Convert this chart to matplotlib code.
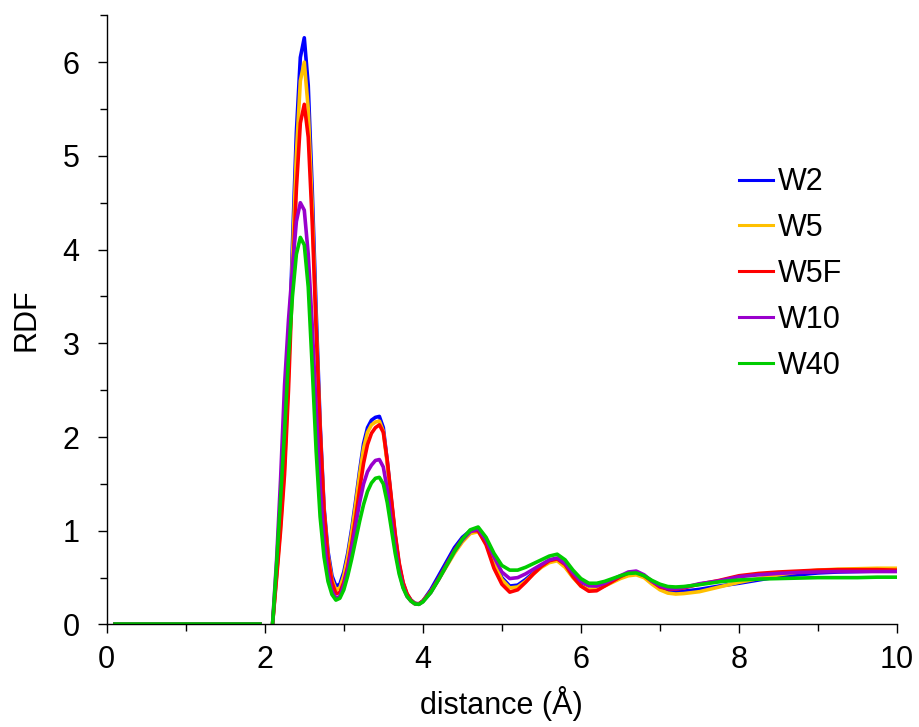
import numpy as np
import matplotlib
matplotlib.use("Agg")
import matplotlib.pyplot as plt

plt.rcParams['font.family'] = ['Liberation Sans', 'DejaVu Sans']

# flat part before the first shell
r_low = [0.1, 0.5, 1.0, 1.5, 1.94]
g_low = [0.0, 0.0, 0.0, 0.0, 0.0]

# distance grid (A): fine around the first two shells, coarser further out
r_a = np.round(np.arange(2.10, 4.001, 0.05), 2)
r_b = np.round(np.arange(4.1, 7.501, 0.1), 2)
r_c = np.round(np.arange(7.75, 10.001, 0.25), 2)
r = np.concatenate([r_a, r_b, r_c])

w2 = [0.02, 0.55, 1.10, 1.75, 2.75, 4.05, 5.25, 6.05, 6.26, 5.75, 4.65, 3.35, 2.15, 1.25, 0.78, 0.52, 0.41, 0.43, 0.56, 0.76,
      1.02, 1.32, 1.64, 1.93, 2.10, 2.18, 2.21, 2.22, 2.10, 1.74, 1.34, 0.95, 0.64, 0.44, 0.32, 0.26, 0.225, 0.22, 0.25,
      0.37, 0.52, 0.67, 0.82, 0.93, 1.00, 1.01, 0.87, 0.67, 0.50, 0.41, 0.42, 0.48, 0.55, 0.62, 0.67, 0.69, 0.62, 0.51, 0.42,
      0.375, 0.38, 0.42, 0.46, 0.50, 0.54, 0.55, 0.51, 0.45, 0.39, 0.36, 0.35, 0.355, 0.365, 0.375,
      0.41, 0.44, 0.475, 0.51, 0.53, 0.55, 0.56, 0.565, 0.57, 0.57]
w5 = [0.02, 0.53, 1.05, 1.68, 2.65, 3.90, 5.02, 5.80, 6.00, 5.50, 4.45, 3.20, 2.05, 1.20, 0.74, 0.48, 0.37, 0.39, 0.52, 0.72,
      0.98, 1.28, 1.60, 1.88, 2.05, 2.13, 2.16, 2.17, 2.06, 1.71, 1.32, 0.94, 0.63, 0.43, 0.31, 0.25, 0.22, 0.22, 0.25,
      0.35, 0.48, 0.62, 0.76, 0.88, 0.97, 0.99, 0.87, 0.66, 0.48, 0.39, 0.40, 0.46, 0.54, 0.61, 0.66, 0.68, 0.61, 0.50, 0.41,
      0.375, 0.38, 0.41, 0.45, 0.49, 0.52, 0.53, 0.50, 0.43, 0.37, 0.335, 0.325, 0.33, 0.34, 0.35,
      0.40, 0.45, 0.49, 0.53, 0.56, 0.58, 0.59, 0.595, 0.60, 0.60]
w5f = [0.02, 0.50, 1.00, 1.60, 2.50, 3.65, 4.65, 5.35, 5.55, 5.20, 4.30, 3.15, 2.10, 1.22, 0.72, 0.45, 0.33, 0.34, 0.45, 0.62,
       0.86, 1.14, 1.44, 1.72, 1.92, 2.04, 2.10, 2.13, 2.05, 1.75, 1.36, 0.97, 0.66, 0.45, 0.33, 0.26, 0.225, 0.22, 0.25,
       0.35, 0.49, 0.64, 0.79, 0.91, 1.00, 1.00, 0.85, 0.60, 0.43, 0.345, 0.37, 0.45, 0.54, 0.62, 0.68, 0.70, 0.64, 0.51, 0.41,
       0.355, 0.36, 0.41, 0.46, 0.51, 0.55, 0.56, 0.52, 0.46, 0.40, 0.38, 0.375, 0.39, 0.41, 0.43,
       0.47, 0.52, 0.545, 0.56, 0.57, 0.58, 0.585, 0.585, 0.585, 0.58]
w10 = [0.03, 0.70, 1.55, 2.55, 3.25, 3.80, 4.30, 4.50, 4.42, 3.95, 3.20, 2.30, 1.48, 0.90, 0.55, 0.36, 0.28, 0.30, 0.42, 0.60,
       0.82, 1.06, 1.30, 1.50, 1.63, 1.70, 1.75, 1.76, 1.68, 1.44, 1.12, 0.82, 0.57, 0.40, 0.30, 0.25, 0.22, 0.215, 0.245,
       0.34, 0.48, 0.63, 0.78, 0.90, 0.99, 1.02, 0.90, 0.72, 0.56, 0.49, 0.50, 0.54, 0.59, 0.64, 0.69, 0.71, 0.65, 0.55, 0.46,
       0.415, 0.41, 0.44, 0.48, 0.52, 0.56, 0.57, 0.53, 0.46, 0.41, 0.385, 0.38, 0.395, 0.415, 0.435,
       0.465, 0.51, 0.53, 0.545, 0.555, 0.56, 0.565, 0.565, 0.565, 0.565]
w40 = [0.02, 0.65, 1.35, 2.05, 2.85, 3.50, 3.95, 4.13, 4.05, 3.60, 2.75, 1.85, 1.15, 0.72, 0.46, 0.32, 0.26, 0.28, 0.37, 0.52,
       0.70, 0.90, 1.10, 1.28, 1.42, 1.51, 1.56, 1.57, 1.50, 1.30, 1.03, 0.76, 0.54, 0.39, 0.30, 0.25, 0.22, 0.215, 0.24,
       0.34, 0.48, 0.63, 0.78, 0.91, 1.01, 1.04, 0.93, 0.76, 0.63, 0.58, 0.58, 0.61, 0.65, 0.69, 0.73, 0.75, 0.69, 0.58, 0.49,
       0.44, 0.44, 0.46, 0.49, 0.52, 0.545, 0.55, 0.52, 0.47, 0.43, 0.405, 0.40, 0.405, 0.415, 0.425,
       0.455, 0.475, 0.485, 0.49, 0.495, 0.50, 0.50, 0.50, 0.505, 0.505]

labels = ["W2", "W5", "W5F", "W10", "W40"]
colors = ["#0000FF", "#FFC000", "#FF0000", "#9900CC", "#00CC00"]
series = [w2, w5, w5f, w10, w40]

fig = plt.figure(figsize=(9.2, 7.27), dpi=100)
ax = fig.add_axes([0.116, 0.141, 0.859, 0.838])

for y, c, lab in zip(series, colors, labels):
    ax.plot(r_low, g_low, color=c, lw=2.6)
    ax.plot(r, y, color=c, lw=2.6, label=lab)

ax.set_xlim(0, 10)
ax.set_ylim(0, 6.5)
ax.set_xticks([0, 2, 4, 6, 8, 10])
ax.set_xticks([1, 3, 5, 7, 9], minor=True)
ax.set_yticks([0, 1, 2, 3, 4, 5, 6])
ax.set_yticks([0.5, 1.5, 2.5, 3.5, 4.5, 5.5, 6.5], minor=True)
ax.spines['top'].set_visible(False)
ax.spines['right'].set_visible(False)
for s in ['left', 'bottom']:
    ax.spines[s].set_linewidth(1.0)
ax.tick_params(axis='both', which='both', direction='out', width=1.0, labelsize=22)
ax.tick_params(axis='both', which='major', length=6.5)
ax.tick_params(axis='both', which='minor', length=5)
ax.tick_params(axis='x', which='major', pad=8)
ax.tick_params(axis='y', which='major', pad=13)

ax.set_xlabel("distance (Å)", fontsize=22, labelpad=8)
ax.set_ylabel("RDF", fontsize=22, labelpad=15)

leg = fig.legend(loc='upper left', bbox_to_anchor=(0.787, 0.791), frameon=False, fontsize=22,
                 handlelength=1.1, handletextpad=0.15, labelspacing=0.52, borderpad=0)
for h in leg.get_lines():
    h.set_linewidth(2.2)

plt.savefig("out.png", dpi=100)
